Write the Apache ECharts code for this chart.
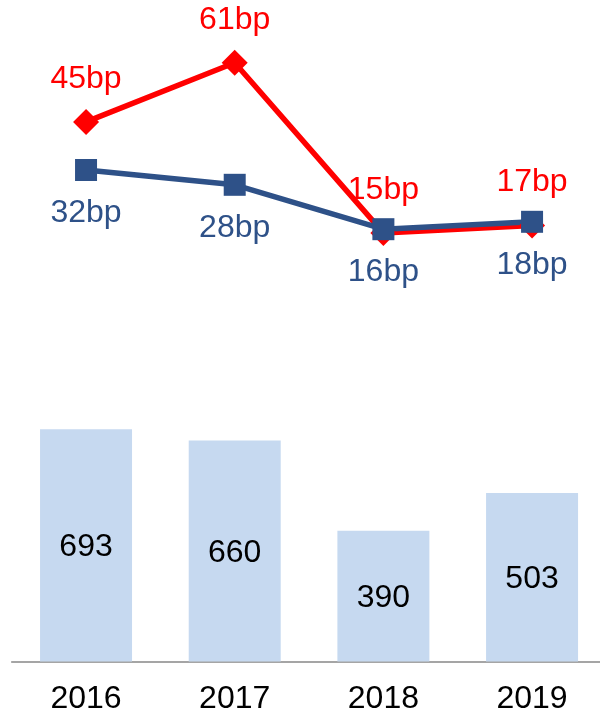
<!DOCTYPE html>
<html>
<head>
<meta charset="utf-8">
<script src="https://cdn.jsdelivr.net/npm/echarts@6/dist/echarts.min.js"></script>
<style>
html,body{margin:0;padding:0;background:#fff;}
#chart{width:600px;height:713px;}
</style>
</head>
<body>
<div id="chart"></div>
<script>
var years = ['2016', '2017', '2018', '2019'];
var redBp = [45, 61, 15, 17];
var blueBp = [32, 28, 16, 18];
var barValues = [693, 660, 390, 503];

var FONT = 'Liberation Sans, Arial, sans-serif';
var FS = 32;
var chart = echarts.init(document.getElementById('chart'), null, {renderer: 'canvas'});
chart.setOption({
  backgroundColor: '#ffffff',
  animation: false,
  grid: [
    {left: 11.7, width: 594.7, top: 29.4, height: 259, outerBoundsMode: 'none', containLabel: false},
    {left: 11.7, width: 594.7, top: 326.5, height: 335, outerBoundsMode: 'none', containLabel: false}
  ],
  xAxis: [
    {gridIndex: 0, type: 'category', data: years, show: false},
    {gridIndex: 1, type: 'category', data: years,
     axisLine: {lineStyle: {color: '#888888', width: 1.5}},
     axisTick: {show: false},
     axisLabel: {color: '#000', fontSize: FS, fontFamily: FONT, margin: 22}}
  ],
  yAxis: [
    {gridIndex: 0, type: 'value', min: 0, max: 70, show: false},
    {gridIndex: 1, type: 'value', min: 0, max: 1000, show: false}
  ],
  series: [
    {
      type: 'bar', xAxisIndex: 1, yAxisIndex: 1, data: barValues,
      barWidth: 92,
      itemStyle: {color: '#C6D9F0'},
      label: {show: true, position: 'inside', color: '#000', fontSize: FS, fontFamily: FONT, offset: [0, 2]}
    },
    {
      type: 'line', xAxisIndex: 0, yAxisIndex: 0, data: redBp,
      symbol: 'diamond', symbolSize: 26,
      lineStyle: {color: '#FF0000', width: 5.5},
      itemStyle: {color: '#FF0000'},
      label: {show: true, position: 'inside', offset: [0, -43], color: '#FF0000', fontSize: FS, fontFamily: FONT,
              formatter: function(p){return p.value + 'bp';}}
    },
    {
      type: 'line', xAxisIndex: 0, yAxisIndex: 0, data: blueBp,
      symbol: 'rect', symbolSize: 22,
      lineStyle: {color: '#2E5188', width: 5.5},
      itemStyle: {color: '#2E5188'},
      label: {show: true, position: 'inside', offset: [0, 43], color: '#2E5188', fontSize: FS, fontFamily: FONT,
              formatter: function(p){return p.value + 'bp';}}
    }
  ]
});
</script>
</body>
</html>
